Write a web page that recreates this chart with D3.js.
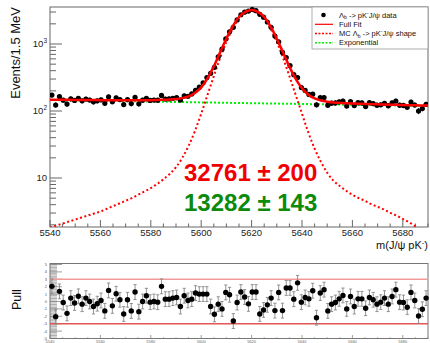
<!DOCTYPE html>
<html>
<head>
<meta charset="utf-8">
<script src="https://cdn.jsdelivr.net/npm/d3@7"></script>
<style>
  body { margin: 0; background: #fff; }
  svg { display: block; font-family: "Liberation Sans", Arial, Helvetica, sans-serif; }
</style>
</head>
<body>
<svg id="chart" width="430" height="343"></svg>
<script>
// 100 bins of 1.5 MeV between 5540 and 5690
const binCenters = d3.range(100).map(i => 5540.75 + 1.5 * i);

const counts = [
  173, 123, 164, 145, 127, 152, 144, 155, 142, 151,
  146, 137, 142, 147, 130, 163, 138, 157, 148, 125,
  148, 129, 160, 128, 145, 155, 144, 146, 145, 171,
  151, 152, 155, 158, 146, 169, 166, 180, 204, 227,
  263, 316, 365, 449, 641, 836, 1191, 1520, 1775, 2290,
  2734, 2995, 3098, 3272, 3146, 2769, 2516, 2129, 1771, 1317,
  1081, 748, 629, 478, 348, 315, 224, 203, 177, 178,
  124, 158, 159, 122, 131, 132, 137, 141, 119, 138,
  121, 133, 132, 117, 133, 129, 122, 124, 130, 120,
  132, 141, 122, 121, 114, 136, 123, 100, 109, 126
];

const pulls = [
  2.05, -2.05, 1.37, -0.14, -1.6, 0.46, -0.2, 0.7, -0.36, 0.46,
  0, -0.68, -0.3, 0.14, -1.27, 1.5, -0.59, 1.05, 0.23, -1.68,
  0.23, -1.27, 1.28, -1.37, 0, 0.78, -0.09, 0, -0.09, 2.05,
  0.32, 0.32, 0.46, 0.55, -0.68, 0.78, 0.14, 0.32, 1.14, 1.0,
  1.0, 1.0, -0.68, -1.73, -0.36, -1.0, 1.23, 0.91, -2.64, -0.14,
  1.28, 0.6, -0.32, 1.28, 1.28, -1.68, -1.14, -0.45, 0.46, -1.23,
  1.23, -1.23, 1.83, 1.83, 0.32, 2.52, -0.09, 0.55, 0.36, 1.46,
  -2.19, 1.14, 1.6, -1.27, -0.36, -0.14, 0.36, 0.82, -1.0, 0.68,
  -0.68, 0.36, 0.36, -0.91, 0.55, 0.23, -0.36, -0.09, 0.46, -0.36,
  0.68, 1.6, -0.09, -0.14, -0.77, 1.23, 0.14, -1.96, -1.05, 0.46
];

// fit curves sampled every 2.5 MeV
const curveMass = d3.range(5540, 5690.01, 2.5);

const signalShape = [
  1.82, 1.95, 2.09, 2.24, 2.40, 2.57, 2.75, 2.95, 3.16, 3.47,
  3.80, 4.17, 4.57, 5.01, 5.62, 6.31, 7.08, 8.13, 9.55, 11.5,
  14.5, 20.0, 30.2, 50.1, 91.2, 174, 331, 617, 1072, 1698,
  2399, 2884, 3090, 2884, 2399, 1698, 1072, 617, 331, 174,
  91.2, 47.9, 27.5, 17.4, 12.0, 9.12, 7.59, 6.46, 5.62, 5.01,
  4.57, 4.07, 3.72, 3.39, 3.02, 2.75, 2.45, 2.19, 1.91, 1.66,
  1.45
];

const fullFit = [
  147.8, 147.5, 147.1, 146.7, 146.4, 146.1, 145.8, 145.5, 145.2, 145.0,
  144.8, 144.8, 144.7, 144.6, 144.7, 145.0, 145.3, 145.8, 146.8, 148.3,
  150.8, 155.8, 165.6, 185.0, 225.6, 308, 464.5, 750, 1205, 1830,
  2531, 3015, 3221, 3014, 2529, 1827, 1201, 745.5, 459, 301.6,
  218.4, 174.7, 153.8, 143.3, 137.5, 134.1, 132.2, 130.7, 129.4, 128.3,
  127.5, 126.6, 125.8, 125.1, 124.2, 123.6, 122.9, 122.2, 121.5, 120.9,
  120.3
];

// exponential background every 10 MeV
const bkgMass = d3.range(5540, 5690.01, 10);
const bkgExp = [146, 144.0, 142.0, 140.1, 138.2, 136.3, 134.4, 132.6, 130.8, 129.0, 127.2, 125.5, 123.8, 122.1, 120.4, 118.8];

const yieldLabels = ['32761 \u00b1 200', '13282 \u00b1 143'];
const pullTickValues = [5, 4, 3, 2, 1, 0, -1, -2, -3, -4, -5];

const svg = d3.select('#chart');

const x = d3.scaleLinear().domain([5540, 5690]).range([50, 428]);
const y = d3.scaleLog().domain([1.857, 3566]).range([227, 7]);
const yPull = d3.scaleLinear().domain([-5, 5]).range([338.5, 264.5]);

const axisColor = '#666';
const red = '#ff0000';
const green = '#00ee00';

// ---------- main panel ----------
svg.append('clipPath').attr('id', 'clipMain')
  .append('rect').attr('x', 50).attr('y', 7).attr('width', 378).attr('height', 220);

// x axis ticks (inside)
const xMajor = d3.range(5540, 5690.1, 20);
const xMinor = d3.range(5540, 5690.1, 5).filter(v => v % 20 !== 0);

const $xAxis = svg.append('g').attr('class', 'x-axis');
$xAxis.selectAll('.major').data(xMajor).enter().append('line')
  .attr('x1', d => x(d)).attr('x2', d => x(d))
  .attr('y1', 227).attr('y2', 220)
  .attr('stroke', axisColor);
$xAxis.selectAll('.minor').data(xMinor).enter().append('line')
  .attr('x1', d => x(d)).attr('x2', d => x(d))
  .attr('y1', 227).attr('y2', 223.5)
  .attr('stroke', axisColor);
$xAxis.selectAll('text').data(xMajor).enter().append('text')
  .attr('x', d => x(d)).attr('y', 236)
  .attr('text-anchor', 'middle')
  .attr('font-size', 9.5)
  .attr('fill', '#222')
  .text(d => d);

// y log axis ticks (inside)
const yMajor = [10, 100, 1000];
const yMinor = [];
[1, 10, 100, 1000].forEach(dec => d3.range(2, 10).forEach(k => {
  const v = dec * k;
  if (v >= 1.857 && v <= 3566) yMinor.push(v);
}));

const $yAxis = svg.append('g').attr('class', 'y-axis');
$yAxis.selectAll('.major').data(yMajor).enter().append('line')
  .attr('x1', 50).attr('x2', 62)
  .attr('y1', d => y(d)).attr('y2', d => y(d))
  .attr('stroke', axisColor);
$yAxis.selectAll('.minor').data(yMinor).enter().append('line')
  .attr('x1', 50).attr('x2', 56)
  .attr('y1', d => y(d)).attr('y2', d => y(d))
  .attr('stroke', axisColor);

const $yLabels = $yAxis.selectAll('text').data(yMajor).enter().append('text')
  .attr('x', 47).attr('y', d => y(d) + 3.3)
  .attr('text-anchor', 'end')
  .attr('font-size', 9.5)
  .attr('fill', '#222');
$yLabels.append('tspan').text('10');
$yLabels.filter(d => d > 10).append('tspan')
  .attr('font-size', 6.5)
  .attr('dy', -4)
  .text(d => d === 100 ? '2' : '3');

// frame
svg.append('rect')
  .attr('x', 50).attr('y', 7).attr('width', 378).attr('height', 220)
  .attr('fill', 'none').attr('stroke', axisColor).attr('stroke-width', 1);

// axis titles
svg.append('text')
  .attr('transform', 'translate(20,7) rotate(-90)')
  .attr('text-anchor', 'end')
  .attr('font-size', 13)
  .attr('fill', '#111')
  .text('Events/1.5 MeV');

const $xTitle = svg.append('text')
  .attr('x', 428).attr('y', 249)
  .attr('text-anchor', 'end')
  .attr('font-size', 11)
  .attr('fill', '#111');
$xTitle.append('tspan').text('m(J/\u03c8 pK');
$xTitle.append('tspan').attr('font-size', 7.5).attr('dy', -4).text('-');
$xTitle.append('tspan').attr('dy', 4).text(')');

// curves
const $curves = svg.append('g').attr('clip-path', 'url(#clipMain)');

const line = d3.line()
  .x(d => x(d[0]))
  .y(d => y(d[1]))
  .curve(d3.curveMonotoneX);

$curves.append('path')
  .datum(bkgMass.map((m, i) => [m, bkgExp[i]]))
  .attr('d', line)
  .attr('fill', 'none')
  .attr('stroke', green)
  .attr('stroke-width', 2)
  .attr('stroke-dasharray', '2,2');

$curves.append('path')
  .datum(curveMass.map((m, i) => [m, signalShape[i]]))
  .attr('d', line)
  .attr('fill', 'none')
  .attr('stroke', red)
  .attr('stroke-width', 2)
  .attr('stroke-dasharray', '2,2.5');

// data points with sqrt(N) errors
const $data = $curves.selectAll('.data')
  .data(binCenters.map((m, i) => ({ m, n: counts[i] })))
  .enter()
    .append('g')
    .attr('class', 'data');
$data.append('line')
  .attr('x1', d => x(d.m)).attr('x2', d => x(d.m))
  .attr('y1', d => y(d.n + Math.sqrt(d.n))).attr('y2', d => y(d.n - Math.sqrt(d.n)))
  .attr('stroke', '#000');
$data.append('circle')
  .attr('cx', d => x(d.m)).attr('cy', d => y(d.n))
  .attr('r', 2.6)
  .attr('fill', '#000');

$curves.append('path')
  .datum(curveMass.map((m, i) => [m, fullFit[i]]))
  .attr('d', line)
  .attr('fill', 'none')
  .attr('stroke', red)
  .attr('stroke-width', 2.5);

// yields
svg.selectAll('.yield')
  .data(yieldLabels)
  .enter()
    .append('text')
    .attr('class', 'yield')
    .attr('x', 184)
    .attr('y', (_, i) => i === 0 ? 180.5 : 211)
    .attr('font-size', 24)
    .attr('font-weight', 'bold')
    .attr('fill', (_, i) => i === 0 ? '#f00000' : '#0b8a0b')
    .text(d => d);

// legend
const $legend = svg.append('g').attr('class', 'legend');
$legend.append('rect')
  .attr('x', 312).attr('y', 7).attr('width', 116).attr('height', 42)
  .attr('fill', '#fff').attr('stroke', '#999').attr('stroke-width', 0.8);

const legendRows = [15, 24.3, 33.5, 42.7];
$legend.append('circle').attr('cx', 323.5).attr('cy', legendRows[0]).attr('r', 2.3).attr('fill', '#000');
$legend.append('line').attr('x1', 315).attr('x2', 333).attr('y1', legendRows[1]).attr('y2', legendRows[1])
  .attr('stroke', red).attr('stroke-width', 1.2);
$legend.append('line').attr('x1', 315).attr('x2', 333).attr('y1', legendRows[2]).attr('y2', legendRows[2])
  .attr('stroke', red).attr('stroke-width', 1.5).attr('stroke-dasharray', '2,1.5');
$legend.append('line').attr('x1', 315).attr('x2', 333).attr('y1', legendRows[3]).attr('y2', legendRows[3])
  .attr('stroke', green).attr('stroke-width', 1.5).attr('stroke-dasharray', '2,1.5');

function legendText(row) {
  return $legend.append('text')
    .attr('x', 339).attr('y', legendRows[row] + 2.6)
    .attr('font-size', 7.5)
    .attr('fill', '#111');
}
function lambdaDecay($t) {
  $t.append('tspan').text('\u039b');
  $t.append('tspan').attr('font-size', 5).attr('dy', 1.8).text('b');
  $t.append('tspan').attr('dy', -1.8).text(' -> pK');
  $t.append('tspan').attr('font-size', 5).attr('dy', -3).text('-');
  $t.append('tspan').attr('dy', 3).text('J/\u03c8');
}
const $l0 = legendText(0);
lambdaDecay($l0);
$l0.append('tspan').text(' data');
legendText(1).text('Full Fit');
const $l2 = legendText(2);
$l2.append('tspan').text('MC ');
lambdaDecay($l2);
$l2.append('tspan').text(' shape');
legendText(3).text('Exponential');

// ---------- pull panel ----------
const $pull = svg.append('g').attr('class', 'pull');

// dense minor ticks
const pullMinor = d3.range(-5, 5.001, 0.2);
$pull.selectAll('.pminor').data(pullMinor).enter().append('line')
  .attr('x1', 50).attr('x2', 57)
  .attr('y1', d => yPull(d)).attr('y2', d => yPull(d))
  .attr('stroke', '#999').attr('stroke-width', 0.8);
$pull.selectAll('.pmajor').data(pullTickValues).enter().append('line')
  .attr('x1', 50).attr('x2', 62)
  .attr('y1', d => yPull(d)).attr('y2', d => yPull(d))
  .attr('stroke', '#888').attr('stroke-width', 0.8);
$pull.selectAll('.plabel').data(pullTickValues).enter().append('text')
  .attr('x', 47).attr('y', d => yPull(d) + 1.4)
  .attr('text-anchor', 'end')
  .attr('font-size', 4)
  .attr('fill', '#555')
  .text(d => d);

// x ticks of pull panel
$pull.selectAll('.pxmajor').data(xMajor).enter().append('line')
  .attr('x1', d => x(d)).attr('x2', d => x(d))
  .attr('y1', 338.5).attr('y2', 335)
  .attr('stroke', '#888').attr('stroke-width', 0.8);
$pull.selectAll('.pxminor').data(xMinor).enter().append('line')
  .attr('x1', d => x(d)).attr('x2', d => x(d))
  .attr('y1', 338.5).attr('y2', 337)
  .attr('stroke', '#888').attr('stroke-width', 0.6);
$pull.selectAll('.pxlabel').data(xMajor).enter().append('text')
  .attr('x', d => x(d)).attr('y', 342.8)
  .attr('text-anchor', 'middle')
  .attr('font-size', 4)
  .attr('fill', '#666')
  .text(d => d);

$pull.append('rect')
  .attr('x', 50).attr('y', 263.5).attr('width', 378).attr('height', 75)
  .attr('fill', 'none').attr('stroke', '#777').attr('stroke-width', 1);

// +-3 sigma lines
$pull.append('line')
  .attr('x1', 50).attr('x2', 428).attr('y1', yPull(3)).attr('y2', yPull(3))
  .attr('stroke', '#f39a9a').attr('stroke-width', 1.5);
$pull.append('line')
  .attr('x1', 50).attr('x2', 428).attr('y1', yPull(-3)).attr('y2', yPull(-3))
  .attr('stroke', '#e25555').attr('stroke-width', 1.5);

const $pts = $pull.selectAll('.pt')
  .data(binCenters.map((m, i) => ({ m, p: pulls[i] })))
  .enter()
    .append('g')
    .attr('class', 'pt');
$pts.append('line')
  .attr('x1', d => x(d.m)).attr('x2', d => x(d.m))
  .attr('y1', d => yPull(d.p + 1)).attr('y2', d => yPull(d.p - 1))
  .attr('stroke', '#888').attr('stroke-width', 0.9);
$pts.selectAll('.cap')
  .data(d => [d.p + 1, d.p - 1].map(v => ({ m: d.m, v })))
  .enter()
    .append('line')
    .attr('x1', d => x(d.m) - 1.6).attr('x2', d => x(d.m) + 1.6)
    .attr('y1', d => yPull(d.v)).attr('y2', d => yPull(d.v))
    .attr('stroke', '#888').attr('stroke-width', 0.9);
$pts.append('circle')
  .attr('cx', d => x(d.m)).attr('cy', d => yPull(d.p))
  .attr('r', 2.7)
  .attr('fill', '#000');

svg.append('text')
  .attr('transform', 'translate(20.7,299.7) rotate(-90)')
  .attr('text-anchor', 'middle')
  .attr('font-size', 12.5)
  .attr('fill', '#111')
  .text('Pull');
</script>
</body>
</html>
